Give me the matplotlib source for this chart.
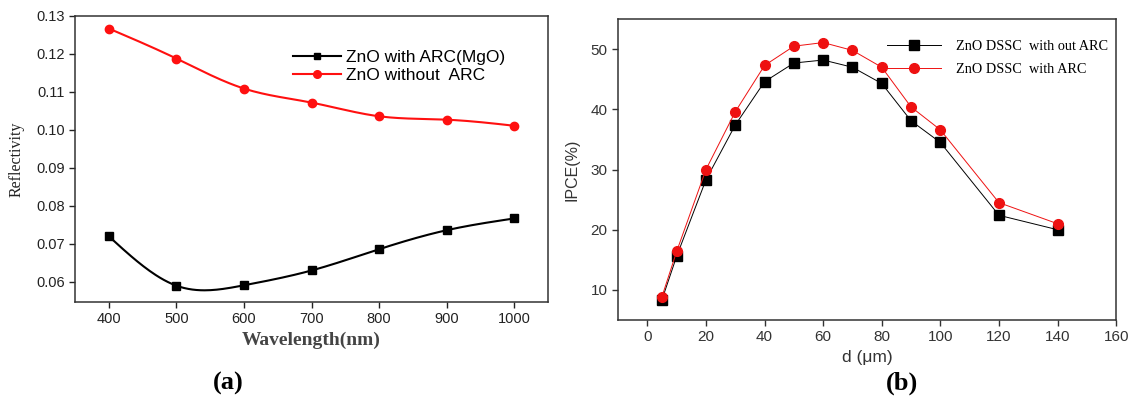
import numpy as np
import matplotlib
matplotlib.use("Agg")
import matplotlib.pyplot as plt

# (a) reflectivity vs wavelength
wavelength = [400, 500, 600, 700, 800, 900, 1000]
refl_with_arc = [0.0720, 0.0590, 0.0591, 0.0630, 0.0686, 0.0736, 0.0767]
refl_without_arc = [0.1267, 0.1188, 0.1109, 0.1072, 0.1036, 0.1027, 0.1011]

# (b) IPCE vs thickness
thickness = [5, 10, 20, 30, 40, 50, 60, 70, 80, 90, 100, 120, 140]
ipce_without_arc = [8.4, 15.6, 28.3, 37.4, 44.6, 47.7, 48.2, 47.0, 44.3, 38.1, 34.5, 22.4, 20.0]
ipce_with_arc = [8.9, 16.4, 30.0, 39.6, 47.3, 50.5, 51.1, 49.8, 47.0, 40.4, 36.6, 24.5, 21.0]


def smooth(x, y, n=200):
    # natural cubic spline, only used to draw the connecting curve
    x = np.asarray(x, float)
    y = np.asarray(y, float)
    k = len(x)
    h = np.diff(x)
    A = np.zeros((k, k))
    r = np.zeros(k)
    A[0, 0] = A[-1, -1] = 1
    for i in range(1, k - 1):
        A[i, i - 1] = h[i - 1]
        A[i, i] = 2 * (h[i - 1] + h[i])
        A[i, i + 1] = h[i]
        r[i] = 6 * ((y[i + 1] - y[i]) / h[i] - (y[i] - y[i - 1]) / h[i - 1])
    m = np.linalg.solve(A, r)
    xs = np.linspace(x[0], x[-1], n)
    idx = np.clip(np.searchsorted(x, xs) - 1, 0, k - 2)
    t0 = x[idx + 1] - xs
    t1 = xs - x[idx]
    hi = h[idx]
    ys = (m[idx] * t0 ** 3 + m[idx + 1] * t1 ** 3) / (6 * hi) \
        + (y[idx] / hi - m[idx] * hi / 6) * t0 \
        + (y[idx + 1] / hi - m[idx + 1] * hi / 6) * t1
    return xs, ys


sans = "Liberation Sans"
serif = "Liberation Serif"

fig = plt.figure(figsize=(11.32, 3.98), dpi=100)
ax1 = fig.add_axes([0.0663, 0.2412, 0.4178, 0.7186])
ax2 = fig.add_axes([0.546, 0.196, 0.44, 0.756])

# ---- panel (a)
xs, ys = smooth(wavelength, refl_with_arc)
ax1.plot(xs, ys, color="black", lw=1.5)
ax1.plot(wavelength, refl_with_arc, "s", color="black", ms=5.5)
xs, ys = smooth(wavelength, refl_without_arc)
ax1.plot(xs, ys, color="#ff1010", lw=1.5)
ax1.plot(wavelength, refl_without_arc, "o", color="#ff1010", ms=6)
ax1.plot([], [], "-s", color="black", lw=1.5, ms=5, label="ZnO with ARC(MgO)")
ax1.plot([], [], "-o", color="#ff1010", lw=1.5, ms=5.5, label="ZnO without  ARC")

ax1.set_xlim(350, 1050)
ax1.set_ylim(0.0547, 0.13)
ax1.set_xticks(range(400, 1001, 100))
ax1.set_yticks(np.arange(0.06, 0.1301, 0.01))
ax1.yaxis.set_major_formatter(plt.FormatStrFormatter("%.2f"))
ax1.tick_params(direction="out", length=4, width=1, labelsize=10.5, colors="#222222")
for lab in ax1.get_xticklabels() + ax1.get_yticklabels():
    lab.set_family(sans)
ax1.set_xlabel("Wavelength(nm)", family=serif, fontsize=14, fontweight="bold", color="#444444", labelpad=4)
ax1.set_ylabel("Reflectivity", family=serif, fontsize=11.5, color="#222222", labelpad=8)
for s in ax1.spines.values():
    s.set_linewidth(1.1)
    s.set_color("#333333")
ax1.legend(loc="upper right", bbox_to_anchor=(0.925, 0.905), frameon=False,
           prop={"family": sans, "size": 12.5}, handlelength=2.8,
           handletextpad=0.3, labelspacing=0.15, borderaxespad=0)

# ---- panel (b)
ax2.plot(thickness, ipce_without_arc, "-s", color="black", lw=0.7, ms=7, label="ZnO DSSC  with out ARC")
ax2.plot(thickness, ipce_with_arc, "-o", color="#ee1111", lw=0.7, ms=7, label="ZnO DSSC  with ARC")
ax2.set_xlim(-10, 160)
ax2.set_ylim(5, 55)
ax2.set_xticks(range(0, 161, 20))
ax2.set_yticks(range(10, 51, 10))
ax2.tick_params(direction="out", length=4, width=1, labelsize=11, colors="#333333")
for lab in ax2.get_xticklabels() + ax2.get_yticklabels():
    lab.set_family(sans)
ax2.set_xlabel("d (\u03bcm)", family=sans, fontsize=12.5, color="#333333", labelpad=4)
ax2.set_ylabel("IPCE(%)", family=sans, fontsize=11.5, color="#333333", labelpad=8)
for s in ax2.spines.values():
    s.set_linewidth(1.1)
    s.set_color("#333333")
ax2.legend(loc="upper right", bbox_to_anchor=(1.0, 0.96), frameon=False,
           prop={"family": serif, "size": 10.3}, handlelength=3.8,
           handletextpad=1.0, labelspacing=0.7, borderaxespad=0.2)

fig.text(228 / 1132, 1 - 383 / 398, "(a)", family=serif, fontsize=19, fontweight="bold",
         ha="center", va="center")
fig.text(902 / 1132, 1 - 383 / 398, "(b)", family=serif, fontsize=19, fontweight="bold",
         ha="center", va="center")

fig.savefig("out.png", dpi=100)
